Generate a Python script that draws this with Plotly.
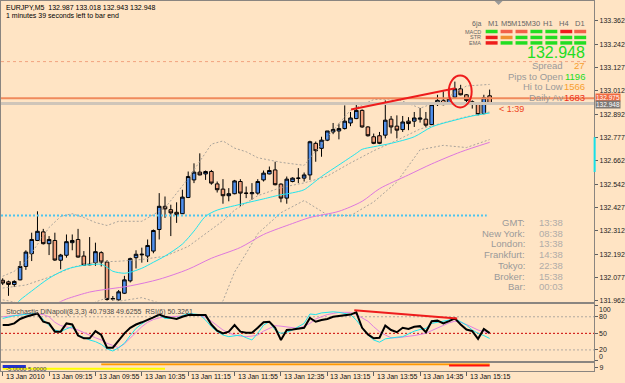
import plotly.graph_objects as go

FONT = "Liberation Sans, Arial, sans-serif"
BG = "#ffe4c4"
W, H = 625, 383

# ---------------- data ----------------
title_text = "EURJPY,M5  132.987 133.018 132.943 132.948"
timer_text = "1 minutes 39 seconds left to bar end"
stoch_title = "Stochastic DiNapoli(8,3,3) 40.7938 49.6255  RSI(6) 50.3261"

bars = list(range(85))
opens = [132.064, 132.056, 132.043, 132.066, 132.133, 132.197, 132.263, 132.306, 132.247, 132.263,
         132.164, 132.189, 132.252, 132.268, 132.185, 132.144, 132.152, 132.202, 132.155, 131.970,
         131.966, 131.999, 132.061, 132.177, 132.191, 132.185, 132.210, 132.318, 132.434, 132.417,
         132.404, 132.397, 132.478, 132.566, 132.605, 132.596, 132.608, 132.546, 132.520, 132.487,
         132.497, 132.558, 132.500, 132.497, 132.500, 132.566, 132.596, 132.616, 132.545, 132.475,
         132.558, 132.574, 132.575, 132.591, 132.749, 132.724, 132.765, 132.806, 132.811, 132.823,
         132.851, 132.873, 132.914, 132.831, 132.782, 132.787, 132.790, 132.870, 132.835, 132.818,
         132.860, 132.860, 132.870, 132.870, 132.843, 132.943, 132.964, 132.953, 132.980, 133.022,
         132.992, 132.957, 132.948, 132.898, 132.987]
highs = [132.074, 132.062, 132.064, 132.160, 132.214, 132.302, 132.409, 132.321, 132.285, 132.302,
         132.196, 132.293, 132.293, 132.321, 132.210, 132.280, 132.252, 132.209, 132.164, 131.985,
         132.015, 132.086, 132.177, 132.214, 132.227, 132.268, 132.318, 132.500, 132.483, 132.442,
         132.454, 132.517, 132.608, 132.649, 132.699, 132.613, 132.616, 132.558, 132.570, 132.525,
         132.566, 132.570, 132.533, 132.550, 132.570, 132.613, 132.633, 132.657, 132.549, 132.583,
         132.579, 132.625, 132.603, 132.762, 132.758, 132.782, 132.811, 132.851, 132.848, 132.939,
         132.906, 132.944, 132.919, 132.835, 132.798, 132.806, 132.964, 132.886, 132.889, 132.886,
         132.880, 132.906, 132.926, 132.906, 132.953, 132.992, 133.009, 133.025, 133.058, 133.042,
         132.996, 132.964, 132.952, 132.992, 133.018]
lows = [132.040, 131.986, 132.030, 132.064, 132.116, 132.160, 132.260, 132.243, 132.190, 132.161,
        132.119, 132.177, 132.214, 132.177, 132.136, 132.139, 132.136, 132.133, 131.962, 131.962,
        131.962, 131.995, 132.053, 132.123, 132.152, 132.155, 132.199, 132.268, 132.376, 132.285,
        132.351, 132.395, 132.475, 132.550, 132.589, 132.566, 132.542, 132.503, 132.447, 132.459,
        132.494, 132.434, 132.475, 132.467, 132.492, 132.558, 132.594, 132.539, 132.454, 132.447,
        132.554, 132.550, 132.558, 132.566, 132.657, 132.682, 132.760, 132.795, 132.769, 132.818,
        132.835, 132.870, 132.827, 132.783, 132.745, 132.745, 132.774, 132.798, 132.774, 132.806,
        132.815, 132.831, 132.853, 132.831, 132.840, 132.936, 132.939, 132.949, 132.976, 132.989,
        132.953, 132.923, 132.889, 132.894, 132.943]
closes = [132.050, 132.043, 132.058, 132.133, 132.205, 132.268, 132.309, 132.247, 132.268, 132.165,
          132.190, 132.257, 132.263, 132.180, 132.139, 132.142, 132.207, 132.155, 131.968, 131.972,
          132.006, 132.066, 132.172, 132.194, 132.194, 132.238, 132.313, 132.434, 132.421, 132.401,
          132.392, 132.480, 132.583, 132.605, 132.591, 132.608, 132.550, 132.517, 132.487, 132.497,
          132.561, 132.500, 132.499, 132.502, 132.558, 132.600, 132.613, 132.542, 132.475, 132.570,
          132.575, 132.575, 132.591, 132.757, 132.712, 132.765, 132.811, 132.818, 132.823, 132.860,
          132.876, 132.914, 132.831, 132.787, 132.749, 132.749, 132.865, 132.831, 132.815, 132.856,
          132.848, 132.876, 132.875, 132.840, 132.943, 132.964, 132.943, 132.972, 133.022, 132.992,
          132.964, 132.947, 132.893, 132.977, 132.948]

ema_idx = [0, 2, 3, 5, 8, 11, 14, 16, 17, 18, 19, 21, 22, 24, 26, 28, 31, 33, 35, 37, 40, 42, 45,
           48, 49, 51, 52, 55, 58, 61, 62, 64, 67, 71, 74, 78, 81, 84]
ema_val = [131.880, 131.935, 131.965, 132.010, 132.074, 132.119, 132.139, 132.144, 132.144, 132.129,
           132.109, 132.099, 132.104, 132.124, 132.154, 132.185, 132.245, 132.310, 132.384, 132.415,
           132.437, 132.451, 132.471, 132.492, 132.496, 132.508, 132.517, 132.583, 132.641, 132.699,
           132.719, 132.732, 132.749, 132.782, 132.831, 132.865, 132.886, 132.901]

ma_idx = [6, 9, 11, 15, 17, 22, 27, 32, 36, 41, 45, 50, 53, 58, 62, 65, 70, 74, 79, 84]
ma_val = [131.925, 131.945, 131.970, 132.005, 132.015, 132.036, 132.069, 132.119, 132.174, 132.228,
          132.293, 132.348, 132.378, 132.409, 132.459, 132.522, 132.591, 132.646, 132.706, 132.754]

bb_idx = [0, 2, 4, 6, 8, 10, 12, 14, 16, 18, 20, 24, 28, 32, 36, 38, 40, 42, 44, 48, 52, 56, 60,
          64, 68, 72, 76, 80, 84]
bb_up = [132.084, 132.109, 132.159, 132.243, 132.328, 132.383, 132.397, 132.378, 132.353, 132.338,
         132.359, 132.359, 132.426, 132.573, 132.745, 132.761, 132.725, 132.707, 132.677, 132.654,
         132.639, 132.780, 132.915, 132.968, 132.972, 132.925, 132.967, 133.036, 133.044]
bb_mid = [132.025, 132.032, 132.040, 132.060, 132.079, 132.104, 132.129, 132.142, 132.154, 132.157,
          132.159, 132.168, 132.184, 132.233, 132.317, 132.361, 132.415, 132.453, 132.487, 132.528,
          132.551, 132.585, 132.651, 132.712, 132.764, 132.821, 132.853, 132.882, 132.906]
bb_low = [131.966, 131.955, 131.921, 131.877, 131.830, 131.825, 131.861, 131.906, 131.955, 131.976,
          131.959, 131.977, 131.942, 131.893, 131.889, 131.961, 132.105, 132.199, 132.297, 132.402,
          132.463, 132.391, 132.387, 132.456, 132.556, 132.717, 132.739, 132.728, 132.768]

level_daily = 133.158      # dotted orange level
level_open = 132.975       # solid orange level
level_bid = 132.948        # bid line
level_cyan = 132.388       # dotted cyan level
cyan_level_end = 83.5

trend_bars = [60.1, 78.1]
trend_prices = [132.918, 133.025]
circle_bars = [76.95, 80.9]
circle_prices = [132.929, 133.088]

rsi = [65, 65, 68, 76, 80, 83, 86, 71, 68, 53, 53, 68, 66, 46, 41, 41, 54, 47, 24, 24,
       38, 50, 60, 66, 70, 74, 79, 84, 80, 78, 76, 80, 83, 83, 83, 83, 66, 55, 50, 53,
       65, 53, 51, 51, 60, 70, 71, 60, 38, 56, 57, 58, 60, 78, 71, 74, 76, 80, 81, 83,
       84, 88, 60, 48, 41, 42, 64, 56, 52, 60, 58, 62, 63, 52, 72, 73, 68, 72, 77, 66,
       57, 54, 40, 58, 50.33]
stoch_main = [77, 80, 82, 83, 85, 86, 86, 74, 64, 56, 53, 58, 62, 47, 42, 38, 35, 30, 22, 18,
              24, 32, 46, 59, 67, 74, 79, 83, 77, 77, 77, 82, 86, 85, 84, 74, 62, 53, 47, 44,
              46, 47, 42, 38, 50, 65, 71, 56, 50, 52, 56, 62, 68, 85, 84, 87, 88, 89, 88, 86,
              84, 74, 60, 47, 38, 34, 40, 42, 43, 44, 49, 54, 57, 59, 68, 70, 72, 74, 76, 71,
              65, 56, 50, 46, 40.79]
stoch_signal = [80, 81, 83, 84, 85, 86, 85, 84, 80, 70, 64, 62, 59, 56, 51, 47, 42, 38, 32, 28,
                24, 31, 41, 52, 62, 70, 75, 78, 80, 80, 81, 82, 83, 83, 82, 79, 72, 64, 56, 51,
                47, 45, 44, 45, 47, 54, 59, 64, 63, 62, 60, 59, 63, 68, 76, 80, 84, 86, 88, 88,
                88, 84, 78, 72, 62, 53, 47, 42, 42, 43, 44, 46, 48, 50, 55, 60, 65, 69, 72, 70,
                66, 61, 56, 53, 49.63]
stoch_levels = [80, 50, 20]
stoch_trend_bars = [60.65, 78.4]
stoch_trend_vals = [91.8, 76.9]

mini_names = ["yellow", "blue", "orange", "red"]
mini_start = [0, 0, 17, 77]
mini_end = [28, 4, 84, 84]
mini_level = [2.3, 4.7, 7.0, 5.7]

time_tick_bars = [0, 8, 16, 24, 32, 40, 48, 56, 64, 72, 80]
time_tick_labels = ["13 Jan 2010", "13 Jan 09:15", "13 Jan 09:55", "13 Jan 10:35", "13 Jan 11:15",
                    "13 Jan 11:55", "13 Jan 12:35", "13 Jan 13:15", "13 Jan 13:55", "13 Jan 14:35",
                    "13 Jan 15:15"]
price_ticks = [133.362, 133.242, 133.127, 133.012, 132.892, 132.777, 132.662, 132.542, 132.427,
               132.312, 132.192, 132.077, 131.962]
stoch_tick_vals = [100, 80, 50, 20, 0]
stoch_tick_labels = ["100", "80", "50", "20", "0"]
stoch_label_pos = [93, 80, 50, 20, 8]

tf_labels = ["M1", "M5", "M15M30", "H1", "H4", "D1"]
tf_centers = [494, 507, 527, 550, 566, 582]
ind_labels = ["MACD", "STR", "EMA"]
G, R, S, O = "#22dd22", "#ee1c1c", "#f26048", "#f09030"
signal_colors = [[G, S, S, G, G, R, S],
                 [R, O, G, G, G, G, G],
                 [R, G, G, G, G, G, G]]

last_price = "132.948"
info_labels = ["Spread", "Pips to Open", "Hi to Low", "Daily Av"]
info_values = ["27", "1196", "1566", "1683"]
info_colors = ["#f7a030", "#22dd22", "#f7a030", "#ee3020"]

clock_labels = ["GMT:", "New York:", "London:", "Frankfurt:", "Tokyo:", "Broker:", "Bar:"]
clock_values = ["13:38", "08:38", "13:38", "14:38", "22:38", "15:38", "00:03"]

# ---------------- geometry helpers (layout only) ----------------
def px(x):
    return x / W

def py(y):
    return 1 - y / H

BAR0_PX, BAR_W = 1.7, 5.825
AXIS_PX = 596
x_range = [-BAR0_PX / BAR_W, (AXIS_PX - BAR0_PX) / BAR_W]
ppu = 282 / (price_ticks[0] - price_ticks[-1])
y_range = [price_ticks[-1] - 1 / ppu, price_ticks[0] + 20 / ppu]
stoch_ppu = (351.7 - 318.3) / 60
stoch_range = [-(363 - 362.8) / stoch_ppu, (362.8 - 305) / stoch_ppu]

fig = go.Figure()

# Bollinger bands
for arr in (bb_up, bb_mid, bb_low):
    fig.add_trace(go.Scatter(x=bb_idx, y=arr, mode="lines", xaxis="x", yaxis="y",
                             line=dict(color="#a9a39b", width=1, dash="2px,2px"), hoverinfo="skip"))
# horizontal levels
fig.add_trace(go.Scatter(x=[x_range[0], x_range[1] - 1], y=[level_daily, level_daily], mode="lines",
                         line=dict(color="#f2a27e", width=1, dash="3px,3px"), hoverinfo="skip"))
fig.add_trace(go.Scatter(x=[x_range[0], cyan_level_end], y=[level_cyan, level_cyan], mode="lines",
                         line=dict(color="#4cc4ee", width=2, dash="2px,2px"), hoverinfo="skip"))
fig.add_trace(go.Scatter(x=x_range, y=[level_bid, level_bid], mode="lines",
                         line=dict(color="#cfc5b9", width=3), hoverinfo="skip"))
fig.add_trace(go.Scatter(x=x_range, y=[level_open, level_open], mode="lines",
                         line=dict(color="#f08a5c", width=2), hoverinfo="skip"))
# moving averages
fig.add_trace(go.Scatter(x=ma_idx, y=ma_val, mode="lines", line=dict(color="#dd77dd", width=1, shape="spline", smoothing=0.8),
                         hoverinfo="skip"))
fig.add_trace(go.Scatter(x=ema_idx, y=ema_val, mode="lines", line=dict(color="#22e4ec", width=1, shape="spline", smoothing=0.8),
                         hoverinfo="skip"))
# candles
fig.add_trace(go.Candlestick(
    x=bars, open=opens, high=highs, low=lows, close=closes, xaxis="x", yaxis="y",
    increasing=dict(fillcolor="#4f8fec", line=dict(color="#000000", width=1)),
    decreasing=dict(fillcolor="#f2a07c", line=dict(color="#000000", width=1)),
    whiskerwidth=0, hoverinfo="skip"))
# trend line
fig.add_trace(go.Scatter(x=trend_bars, y=trend_prices, mode="lines",
                         line=dict(color="#ee1c1c", width=2), hoverinfo="skip"))

# stochastic panel
for lv in stoch_levels:
    fig.add_trace(go.Scatter(x=x_range, y=[lv, lv], mode="lines", xaxis="x2", yaxis="y2",
                             line=dict(color="#cc0000" if lv == 50 else "#b0aaa2", width=1, dash="2px,2px"),
                             hoverinfo="skip"))
fig.add_trace(go.Scatter(x=bars, y=stoch_signal, mode="lines", xaxis="x2", yaxis="y2",
                         line=dict(color="#e080e0", width=1), hoverinfo="skip"))
fig.add_trace(go.Scatter(x=bars, y=stoch_main, mode="lines", xaxis="x2", yaxis="y2",
                         line=dict(color="#20e4ec", width=1), hoverinfo="skip"))
fig.add_trace(go.Scatter(x=bars, y=rsi, mode="lines", xaxis="x2", yaxis="y2",
                         line=dict(color="#000000", width=2), hoverinfo="skip"))
fig.add_trace(go.Scatter(x=stoch_trend_bars, y=stoch_trend_vals, mode="lines", xaxis="x2", yaxis="y2",
                         line=dict(color="#ee1c1c", width=2), hoverinfo="skip"))

# mini panel
mini_colors = {"yellow": "#ffff00", "blue": "#2233cc", "orange": "#ff9900", "red": "#ff1010"}
mini_widths = {"yellow": 2, "blue": 3, "orange": 2, "red": 2}
for name, s, e, lv in zip(mini_names, mini_start, mini_end, mini_level):
    fig.add_trace(go.Scatter(x=[s, e], y=[lv, lv], mode="lines", xaxis="x3", yaxis="y3",
                             line=dict(color=mini_colors[name], width=mini_widths[name]), hoverinfo="skip"))

axis_common = dict(showgrid=False, zeroline=False, showline=True, mirror=True, linecolor="#8a8580",
                   linewidth=1, fixedrange=True)
fig.update_layout(
    width=W, height=H, margin=dict(l=0, r=0, t=0, b=0), paper_bgcolor=BG, plot_bgcolor=BG,
    showlegend=False, boxgap=0.12,
    font=dict(family=FONT, size=7, color="#000000"),
    xaxis=dict(domain=[0, px(AXIS_PX)], range=x_range, anchor="y", showticklabels=False,
               rangeslider=dict(visible=False), **axis_common),
    yaxis=dict(domain=[py(303), 1.0], range=y_range, anchor="x", side="right",
               tickvals=price_ticks, ticktext=[f"{v:.3f}" for v in price_ticks],
               ticks="outside", ticklen=3, tickcolor="#606060",
               tickfont=dict(size=7, color="#222222", family=FONT), **axis_common),
    xaxis2=dict(domain=[0, px(AXIS_PX)], range=x_range, anchor="y2", showticklabels=False, **axis_common),
    yaxis2=dict(domain=[py(363), py(305)], range=stoch_range, anchor="x2", side="right",
                tickvals=stoch_tick_vals, showticklabels=False, ticks="outside", ticklen=3,
                tickcolor="#606060", **axis_common),
    xaxis3=dict(domain=[0, px(AXIS_PX)], range=x_range, anchor="y3", showticklabels=False,
                tickvals=time_tick_bars, ticks="outside", ticklen=4, tickcolor="#606060", **axis_common),
    yaxis3=dict(domain=[py(373), py(365)], range=[0, 8], anchor="x3", side="right",
                tickvals=[4], ticktext=["9"], ticks="outside", ticklen=3, tickcolor="#606060",
                tickfont=dict(size=7, color="#222222", family=FONT), **axis_common),
)

ann = []
def text(x, y, t, color="#000000", size=7, anchor="left", **kw):
    d = dict(x=x, y=y, xref="paper", yref="paper", text=t, showarrow=False, xanchor=anchor,
             yanchor="middle", font=dict(family=FONT, size=size, color=color))
    d.update(kw)
    ann.append(d)

text(px(3), py(6.5), title_text)
text(px(3), py(14.5), timer_text)
text(px(3), py(313), stoch_title, color="#4a4a4a")
text(px(3), py(371), "-5.0000 5.0000", color="#404060", size=6)

for b, lab in zip(time_tick_bars, time_tick_labels):
    ann.append(dict(x=b + 0.2, y=py(378.5), xref="x3", yref="paper", text=lab, showarrow=False,
                    xanchor="left", yanchor="middle", font=dict(family=FONT, size=7, color="#111111")))

for lab, v in zip(stoch_tick_labels, stoch_label_pos):
    ann.append(dict(x=px(599), y=v, xref="paper", yref="y2", text=lab, showarrow=False,
                    xanchor="left", yanchor="middle", font=dict(family=FONT, size=7, color="#222222")))

# price tags on axis
ann.append(dict(x=px(597), y=level_open + 0.004, xref="paper", yref="y", text=f"{level_open:.3f}", showarrow=False,
                xanchor="left", yanchor="middle", bgcolor="#f06a40", borderpad=0,
                font=dict(family=FONT, size=6.5, color="#ffffff")))
ann.append(dict(x=px(597), y=level_bid - 0.004, xref="paper", yref="y", text=f"{level_bid:.3f}", showarrow=False,
                xanchor="left", yanchor="middle", bgcolor="#7c7874", borderpad=0,
                font=dict(family=FONT, size=6.5, color="#ffffff")))

# timer near last bar
text(px(498), py(109), "&lt; 1:39", color="#ee4422", size=9)

# signal table
text(px(484), py(23), "6ja", color="#666666", size=7, anchor="right")
for lab, cx in zip(tf_labels, tf_centers):
    text(px(cx), py(23), lab, color="#666666", size=7.5, anchor="center")
row_tops = [29, 35, 40.5]
row_mid = [31, 36.7, 42.3]
cell_left = [487, 502, 517, 532, 547, 562, 576]
for lab, ym in zip(ind_labels, row_mid):
    text(px(484), py(ym), lab, color="#666666", size=5.5, anchor="right")

shapes = []
for r, top in enumerate(row_tops):
    for c, left in enumerate(cell_left):
        shapes.append(dict(type="rect", xref="paper", yref="paper", x0=px(left), x1=px(left + 12),
                           y0=py(top + 3.5), y1=py(top), fillcolor=signal_colors[r][c], line=dict(width=0)))

text(px(589), py(52), last_price, color="#22dd22", size=16, anchor="right")
for i, (lab, val, col) in enumerate(zip(info_labels, info_values, info_colors)):
    yy = 65 + i * 10.7
    text(px(567), py(yy), lab, color="#9a9a9a", size=9.5, anchor="right")
    text(px(589), py(yy), val, color=col, size=9.5, anchor="right")

for i, (lab, val) in enumerate(zip(clock_labels, clock_values)):
    yy = 223.3 + i * 10.8
    text(px(529), py(yy), lab, color="#9a9a9a", size=9.5, anchor="right")
    text(px(539), py(yy), val, color="#b0aca8", size=9.5, anchor="left")

# circle around the top bars
shapes.append(dict(type="circle", xref="x", yref="y", x0=circle_bars[0], x1=circle_bars[1],
                   y0=circle_prices[0], y1=circle_prices[1], line=dict(color="#ee1c1c", width=2)))
# cyan marker on price axis
shapes.append(dict(type="line", xref="paper", yref="y", x0=px(596.5), x1=px(596.5),
                   y0=132.606, y1=132.780, line=dict(color="#18e0e8", width=2)))
# chart shift marker
shapes.append(dict(type="path", xref="paper", yref="paper",
                   path=f"M {px(496)} {py(0)} L {px(504)} {py(0)} L {px(500)} {py(4)} Z",
                   fillcolor="#9a9a9a", line=dict(width=0)))

fig.update_layout(annotations=ann, shapes=shapes)
fig.write_html("out.html")
